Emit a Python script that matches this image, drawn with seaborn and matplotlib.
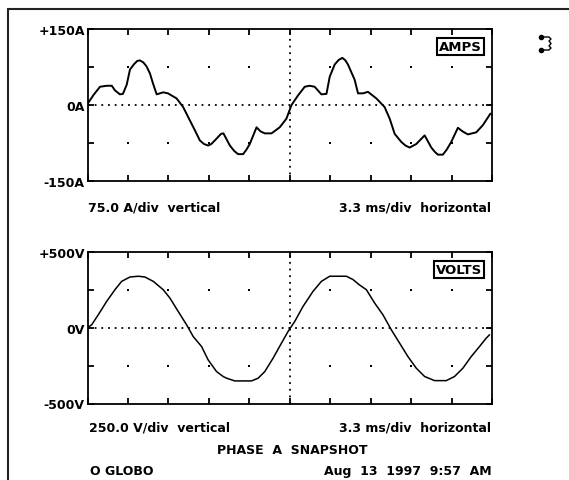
import numpy as np
import pandas as pd
import matplotlib
matplotlib.use("Agg")
import matplotlib.pyplot as plt
from matplotlib.lines import Line2D
import seaborn as sns

# ---------------- data ----------------
t_amps = [0.0, 0.5, 1.03, 1.6, 2.0, 2.26, 2.67, 2.92, 3.23, 3.5, 3.85, 4.1, 4.32, 4.6,
          4.87, 5.15, 5.39, 5.7, 6.24, 6.63, 7.34, 7.88, 8.3, 8.85, 9.26, 9.6, 9.94,
          10.2, 10.49, 11.0, 11.2, 11.73, 12.1, 12.41, 12.82, 13.1, 13.37, 13.93, 14.25,
          14.61, 15.16, 15.84, 16.39, 16.81, 17.35, 17.9, 18.3, 18.72, 19.27, 19.69,
          19.96, 20.37, 20.7, 21.0, 21.25, 21.46, 22.01, 22.29, 22.7, 23.11, 23.8, 24.48,
          24.9, 25.31, 25.86, 26.2, 26.54, 27.09, 27.78, 28.33, 28.6, 28.87, 29.28, 29.6,
          29.97, 30.52, 30.9, 31.34, 32.03, 32.57, 33.2]
amps = [2, 20, 36, 38, 38, 29, 21, 22, 40, 70, 81, 87, 88, 84,
        76, 62, 43, 21, 25, 23, 13, -4, -24, -50, -70, -77, -80,
        -77, -70, -57, -56, -80, -91, -97, -97, -88, -77, -44, -52,
        -56, -56, -44, -27, 0, 19, 36, 38, 36, 21, 22,
        56, 80, 89, 93, 88, 80, 50, 23, 23, 26, 13, -4,
        -27, -57, -73, -80, -84, -77, -60, -84, -92, -98, -98, -88,
        -73, -45, -52, -58, -54, -40, -17]

t_volts = [0.0, 0.35, 0.89, 1.58, 2.26, 2.81, 3.5, 4.18, 4.73, 5.42, 6.24, 6.79, 7.47,
           8.16, 8.71, 9.4, 9.94, 10.63, 11.18, 11.46, 12.14, 13.51, 14.06, 14.61,
           15.29, 15.98, 16.53, 17.08, 17.76, 18.58, 19.27, 19.96, 21.33, 21.88, 22.37,
           22.98, 23.66, 24.34, 25.03, 25.72, 26.4, 27.09, 27.78, 28.6, 29.56, 30.24,
           30.93, 31.62, 32.3, 32.85, 33.13]
volts = [0, 20, 86, 174, 251, 306, 335, 340, 335, 306, 251, 196, 108,
         20, -58, -124, -212, -289, -322, -333, -351, -351, -333, -289,
         -201, -102, -24, 42, 141, 240, 306, 340, 340, 318, 285,
         251, 163, 86, -13, -102, -190, -267, -322, -349, -349, -322,
         -267, -190, -124, -69, -46]

amp_ticks = [-150, -75, 0, 75, 150]
amp_labels = ["-150A", "", "0A", "", "+150A"]
volt_ticks = [-500, -250, 0, 250, 500]
volt_labels = ["-500V", "", "0V", "", "+500V"]
ms_per_div = 3.333
n_div = 10

# ---------------- style ----------------
sns.set_theme(style="white")
plt.rcParams["font.family"] = ["DejaVu Sans"]
plt.rcParams["font.weight"] = "bold"

W, H = 569, 481
fig = plt.figure(figsize=(W / 100, H / 100), dpi=100)
fig.patch.set_facecolor("white")


def fx(px):
    return px / W


def fy(py):
    return 1 - py / H


def make_axes(top, bottom):
    left, right = 87.5, 492
    return fig.add_axes([fx(left), fy(bottom), fx(right) - fx(left), fy(top) - fy(bottom)])


ax1 = make_axes(30, 182)
ax2 = make_axes(253, 404.5)

xt = [i * ms_per_div for i in range(n_div + 1)]


def style_axes(ax, yticks, ylabels, box_label):
    ax.set_xlim(0, n_div * ms_per_div)
    ax.set_ylim(yticks[0], yticks[-1])
    ax.set_xticks(xt)
    ax.set_xticklabels([])
    ax.set_yticks(yticks)
    ax.set_yticklabels(ylabels, fontsize=9, fontweight="bold", color="black")
    ax.tick_params(direction="in", length=4, width=1.3, color="black",
                   top=True, right=True, bottom=True, left=True, pad=2)
    for s in ax.spines.values():
        s.set_visible(True)
        s.set_color("black")
        s.set_linewidth(1.3)
    ax.set_xlabel("")
    ax.set_ylabel("")
    # centre dotted lines
    ax.axhline(0, color="black", lw=1.3, ls=(0, (1, 2.7)), zorder=1)
    ax.axvline(xt[5], color="black", lw=1.3, ls=(0, (1, 2.7)), zorder=1)
    # grid dots at division intersections
    gx = [x for i, x in enumerate(xt) if i not in (0, 5, n_div)]
    gy = [yticks[1], yticks[3]]
    GX, GY = np.meshgrid(gx, gy)
    ax.plot(GX.ravel(), GY.ravel(), ls="none", marker="s", ms=1.8,
            color="black", mew=0, zorder=1)
    ax.text(0.975, 0.93, box_label, transform=ax.transAxes, ha="right", va="top",
            fontsize=9.5, fontweight="bold", color="black",
            bbox=dict(boxstyle="square,pad=0.15", fc="white", ec="black", lw=1.5))


df_a = pd.DataFrame({"t": t_amps, "amps": amps})
df_v = pd.DataFrame({"t": t_volts, "volts": volts})

sns.lineplot(data=df_a, x="t", y="amps", ax=ax1, color="black", lw=1.4,
             sort=False, estimator=None, zorder=3)
sns.lineplot(data=df_v, x="t", y="volts", ax=ax2, color="black", lw=1.1,
             sort=False, estimator=None, zorder=3)

style_axes(ax1, amp_ticks, amp_labels, "AMPS")
style_axes(ax2, volt_ticks, volt_labels, "VOLTS")

# ---------------- annotation text ----------------
kw = dict(fontsize=9, fontweight="bold", color="black", va="center")
fig.text(fx(88), fy(208), "75.0 A/div  vertical", ha="left", **kw)
fig.text(fx(491), fy(208), "3.3 ms/div  horizontal", ha="right", **kw)
fig.text(fx(89), fy(428), "250.0 V/div  vertical", ha="left", **kw)
fig.text(fx(491), fy(428), "3.3 ms/div  horizontal", ha="right", **kw)
fig.text(fx(292), fy(451), "PHASE  A  SNAPSHOT", ha="center", **kw)
fig.text(fx(90), fy(472), "O GLOBO", ha="left", **kw)
fig.text(fx(492), fy(472), "Aug  13  1997  9:57  AM", ha="right", **kw)

# ---------------- outer frame ----------------
fig.add_artist(Line2D([fx(8), fx(569)], [fy(10), fy(10)], color="#222222", lw=1.5))
fig.add_artist(Line2D([fx(8), fx(8)], [fy(10), fy(481)], color="#222222", lw=1.5))

# ---------------- small coil icon ----------------
ix = [541, 549, 551, 549, 551, 549, 551, 549, 541]
iy = [38, 38, 40, 42, 44.5, 47, 49, 51, 51]
fig.add_artist(Line2D([fx(v) for v in ix], [fy(v) for v in iy], color="black", lw=1.0))
fig.add_artist(Line2D([fx(541), fx(541)], [fy(38), fy(51)], ls="none", marker="o",
                      ms=3, color="black"))

fig.savefig("out.png", dpi=100, facecolor="white")
